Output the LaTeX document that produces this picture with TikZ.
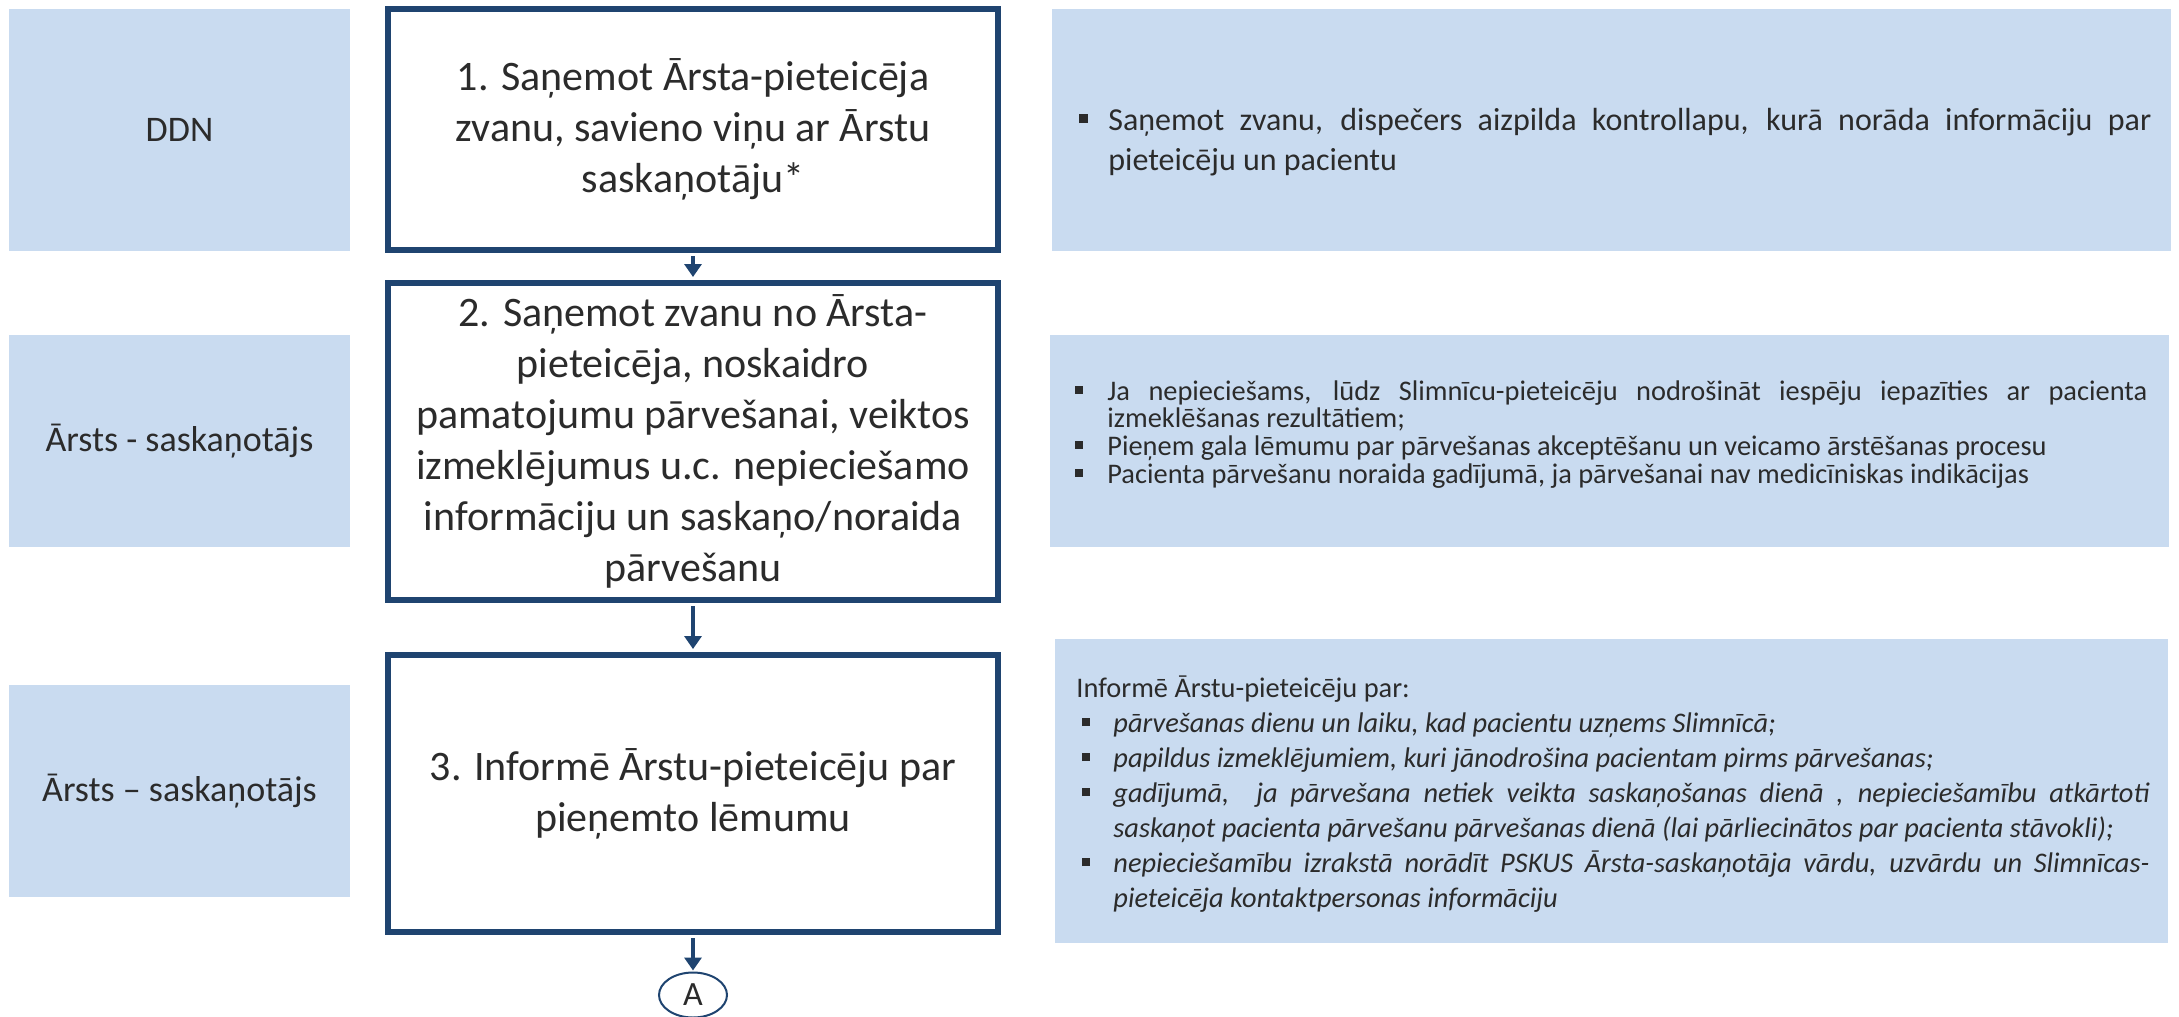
\documentclass[tikz,border=0pt]{standalone}
\usepackage{fontspec}
\setmainfont{Carlito}
\usetikzlibrary{arrows.meta,shapes.geometric}
\definecolor{lb}{HTML}{C9DBF0}
\definecolor{db}{HTML}{1F4470}
\definecolor{tx}{HTML}{2B2B2B}
\hyphenpenalty=10000
\exhyphenpenalty=10000
\tolerance=9000
\newcommand{\sqb}{\rule[0.22em]{0.28em}{0.28em}}
\newcommand{\bitem}[2]{\par\noindent\hangindent=#2\hangafter=1\hbox to #2{\hskip#1\sqb\hfil}\ignorespaces}
\begin{document}
\begin{tikzpicture}[x=0.5pt,y=-0.5pt,
  lane/.style={fill=lb, draw=none, inner sep=0pt, minimum width=170.5pt, font=\fontsize{18}{22}\selectfont, text=tx},
  mainbox/.style={draw=db, line width=3pt, fill=white, inner sep=0pt, minimum width=305pt, align=center, font=\fontsize{21}{25.5}\selectfont, text=tx},
  info/.style={fill=lb, draw=none, inner sep=0pt},
  infotext/.style={anchor=west, inner sep=0pt, text width=536pt, align=justify, text=tx},
  flow/.style={draw=db, line width=2pt, -{Triangle[width=8.5pt,length=6.5pt]}, shorten <=1.5pt, shorten >=1.5pt}]
\useasboundingbox (0,0) rectangle (2179,1017);
\fill[white] (0,0) rectangle (2179,1017);

% lane labels
\node[lane, minimum height=121pt] (l1) at (179.5,130) {DDN};
\node[lane, minimum height=106pt] (l2) at (179.5,441) {Ārsts - saskaņotājs};
\node[lane, minimum height=106pt] (l3) at (179.5,791) {Ārsts – saskaņotājs};

% main process boxes
\node[mainbox, minimum height=120.5pt] (b1) at (693,129.5) {1. Saņemot Ārsta-pieteicēja\\zvanu, savieno viņu ar Ārstu\\saskaņotāju*};
\node[mainbox, minimum height=158.5pt] (b2) at (693,441.5) {2. Saņemot zvanu no Ārsta-\\pieteicēja, noskaidro\\pamatojumu pārvešanai, veiktos\\izmeklējumus u.c. nepieciešamo\\informāciju un saskaņo/noraida\\pārvešanu};
\node[mainbox, minimum height=138.5pt] (b3) at (693,793.5) {3. Informē Ārstu-pieteicēju par\\pieņemto lēmumu};

% connector circle
\node[ellipse, draw=db, line width=1pt, fill=white, minimum width=34pt, minimum height=22.5pt, inner sep=0pt, font=\fontsize{17}{20}\selectfont, text=tx] (A) at (693,995) {A};

% info boxes
\node[info, minimum width=559.5pt, minimum height=121pt] (r1) at (1611.5,130) {};
\node[info, minimum width=559.5pt, minimum height=106pt] (r2) at (1609.5,441) {};
\node[info, minimum width=556.5pt, minimum height=152pt] (r3) at (1611.5,791) {};

\node[infotext, font=\fontsize{16}{20}\selectfont] (t1) at (1079,133) {\bitem{0pt}{14.5pt}Saņemot zvanu, dispečers aizpilda kontrollapu, kurā norāda informāciju par\linebreak pieteicēju un pacientu\par};

\node[infotext, font=\fontsize{14.2}{13.5}\selectfont] (t2) at (1075,430) {\setlength{\parskip}{0.5pt}\bitem{0pt}{16pt}Ja nepieciešams, lūdz Slimnīcu-pieteicēju nodrošināt iespēju iepazīties ar pacienta\linebreak izmeklēšanas rezultātiem;\bitem{0pt}{16pt}Pieņem gala lēmumu par pārvešanas akceptēšanu un veicamo ārstēšanas procesu\bitem{0pt}{16pt}Pacienta pārvešanu noraida gadījumā, ja pārvešanai nav medicīniskas indikācijas\par};

\node[infotext, text width=536.5pt, font=\fontsize{14.2}{17.5}\selectfont] (t3) at (1076,794) {\noindent Informē Ārstu-pieteicēju par:\itshape\bitem{3pt}{18.5pt}pārvešanas dienu un laiku, kad pacientu uzņems Slimnīcā;\bitem{3pt}{18.5pt}papildus izmeklējumiem, kuri jānodrošina pacientam pirms pārvešanas;\bitem{3pt}{18.5pt}gadījumā, \ ja pārvešana netiek veikta saskaņošanas dienā , nepieciešamību atkārtoti\linebreak saskaņot pacienta pārvešanu pārvešanas dienā (lai pārliecinātos par pacienta stāvokli);\bitem{3pt}{18.5pt}nepieciešamību izrakstā norādīt PSKUS Ārsta-saskaņotāja vārdu, uzvārdu un Slimnīcas-\linebreak pieteicēja kontaktpersonas informāciju\par};

% connectors
\draw[flow] (b1.south) -- (b2.north);
\draw[flow] (b2.south) -- (b3.north);
\draw[flow, shorten >=0.5pt] (b3.south) -- (A.north);
\end{tikzpicture}
\end{document}
